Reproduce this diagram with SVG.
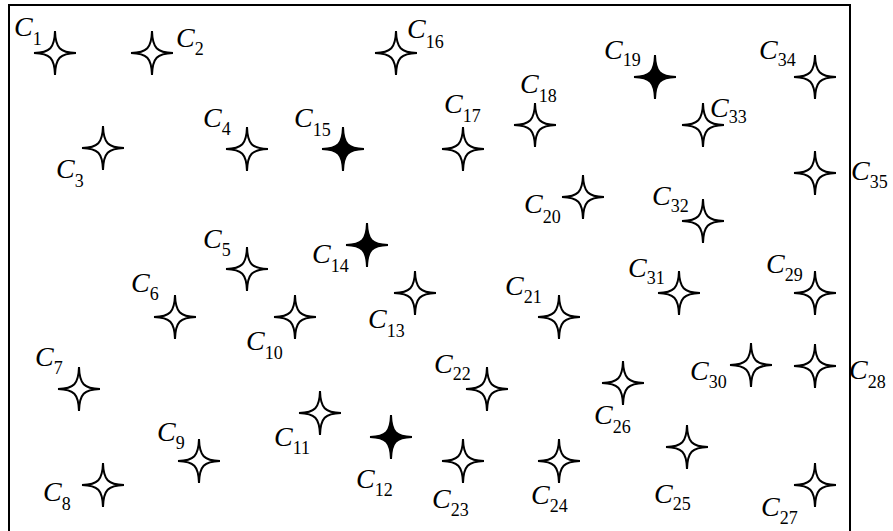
<svg xmlns="http://www.w3.org/2000/svg" xmlns:xlink="http://www.w3.org/1999/xlink" width="893" height="531" viewBox="0 0 893 531">
<style>
.st{fill:#fff;stroke:#000;stroke-width:2;stroke-linejoin:miter}
.sf{fill:#000;stroke:#000;stroke-width:2}
.l{font-family:"Liberation Serif","Times New Roman",serif;font-style:italic;font-size:28px;fill:#000}
.s{font-style:normal;font-size:18px}
.frame{fill:none;stroke:#000;stroke-width:2}
</style>
<defs>
<path id="star" d="M0,-22 C0.5,-5 5,-0.5 21,0 C5,0.5 0.5,5 0,22 C-0.5,5 -5,0.5 -21,0 C-5,-0.5 -0.5,-5 0,-22 Z"/>
</defs>
<rect width="893" height="531" fill="#fff"/>
<path class="frame" d="M9,532 V5 H850 V532"/>
<g id="connectors"></g>
<g id="n1"><use href="#star" class="st" x="55" y="53"/><text class="l" x="14" y="36">C<tspan class="s" dy="9">1</tspan></text></g>
<g id="n2"><use href="#star" class="st" x="152" y="53"/><text class="l" x="176" y="47">C<tspan class="s" dy="8">2</tspan></text></g>
<g id="n3"><use href="#star" class="st" x="103" y="148"/><text class="l" x="56" y="178">C<tspan class="s" dy="9">3</tspan></text></g>
<g id="n4"><use href="#star" class="st" x="247" y="149"/><text class="l" x="203" y="127">C<tspan class="s" dy="8">4</tspan></text></g>
<g id="n5"><use href="#star" class="st" x="247" y="269"/><text class="l" x="203" y="248">C<tspan class="s" dy="8">5</tspan></text></g>
<g id="n6"><use href="#star" class="st" x="175" y="317"/><text class="l" x="131" y="292">C<tspan class="s" dy="8">6</tspan></text></g>
<g id="n7"><use href="#star" class="st" x="79" y="389"/><text class="l" x="35" y="366">C<tspan class="s" dy="8">7</tspan></text></g>
<g id="n8"><use href="#star" class="st" x="103" y="485"/><text class="l" x="43" y="501">C<tspan class="s" dy="9">8</tspan></text></g>
<g id="n9"><use href="#star" class="st" x="199" y="461"/><text class="l" x="157" y="441">C<tspan class="s" dy="8">9</tspan></text></g>
<g id="n10"><use href="#star" class="st" x="295" y="317"/><text class="l" x="246" y="350">C<tspan class="s" dy="9">10</tspan></text></g>
<g id="n11"><use href="#star" class="st" x="320" y="413"/><text class="l" x="274" y="446">C<tspan class="s" dy="8">11</tspan></text></g>
<g id="n12"><use href="#star" class="sf" x="391" y="437"/><text class="l" x="356" y="488">C<tspan class="s" dy="8">12</tspan></text></g>
<g id="n13"><use href="#star" class="st" x="415" y="293"/><text class="l" x="368" y="328">C<tspan class="s" dy="9">13</tspan></text></g>
<g id="n14"><use href="#star" class="sf" x="367" y="245"/><text class="l" x="312" y="263">C<tspan class="s" dy="9">14</tspan></text></g>
<g id="n15"><use href="#star" class="sf" x="343" y="149"/><text class="l" x="294" y="127">C<tspan class="s" dy="9">15</tspan></text></g>
<g id="n16"><use href="#star" class="st" x="396" y="53"/><text class="l" x="407" y="38">C<tspan class="s" dy="10">16</tspan></text></g>
<g id="n17"><use href="#star" class="st" x="463" y="149"/><text class="l" x="444" y="113">C<tspan class="s" dy="9">17</tspan></text></g>
<g id="n18"><use href="#star" class="st" x="535" y="125"/><text class="l" x="520" y="93">C<tspan class="s" dy="9">18</tspan></text></g>
<g id="n19"><use href="#star" class="sf" x="655" y="77"/><text class="l" x="604" y="59">C<tspan class="s" dy="7">19</tspan></text></g>
<g id="n20"><use href="#star" class="st" x="583" y="197"/><text class="l" x="524" y="213">C<tspan class="s" dy="10">20</tspan></text></g>
<g id="n21"><use href="#star" class="st" x="559" y="317"/><text class="l" x="505" y="295">C<tspan class="s" dy="8">21</tspan></text></g>
<g id="n22"><use href="#star" class="st" x="487" y="389"/><text class="l" x="434" y="373">C<tspan class="s" dy="7">22</tspan></text></g>
<g id="n23"><use href="#star" class="st" x="463" y="461"/><text class="l" x="432" y="508">C<tspan class="s" dy="8">23</tspan></text></g>
<g id="n24"><use href="#star" class="st" x="559" y="461"/><text class="l" x="531" y="504">C<tspan class="s" dy="8">24</tspan></text></g>
<g id="n25"><use href="#star" class="st" x="687" y="447"/><text class="l" x="654" y="503">C<tspan class="s" dy="7">25</tspan></text></g>
<g id="n26"><use href="#star" class="st" x="623" y="383"/><text class="l" x="594" y="424">C<tspan class="s" dy="9">26</tspan></text></g>
<g id="n27"><use href="#star" class="st" x="815" y="485"/><text class="l" x="761" y="516">C<tspan class="s" dy="8">27</tspan></text></g>
<g id="n28"><use href="#star" class="st" x="815" y="366"/><text class="l" x="849" y="379">C<tspan class="s" dy="9">28</tspan></text></g>
<g id="n29"><use href="#star" class="st" x="815" y="293"/><text class="l" x="766" y="273">C<tspan class="s" dy="8">29</tspan></text></g>
<g id="n30"><use href="#star" class="st" x="751" y="365"/><text class="l" x="690" y="380">C<tspan class="s" dy="8">30</tspan></text></g>
<g id="n31"><use href="#star" class="st" x="679" y="293"/><text class="l" x="628" y="277">C<tspan class="s" dy="7">31</tspan></text></g>
<g id="n32"><use href="#star" class="st" x="703" y="221"/><text class="l" x="652" y="205">C<tspan class="s" dy="7">32</tspan></text></g>
<g id="n33"><use href="#star" class="st" x="703" y="125"/><text class="l" x="710" y="117">C<tspan class="s" dy="6">33</tspan></text></g>
<g id="n34"><use href="#star" class="st" x="815" y="77"/><text class="l" x="759" y="59">C<tspan class="s" dy="7">34</tspan></text></g>
<g id="n35"><use href="#star" class="st" x="815" y="173"/><text class="l" x="851" y="180">C<tspan class="s" dy="8">35</tspan></text></g>
</svg>
